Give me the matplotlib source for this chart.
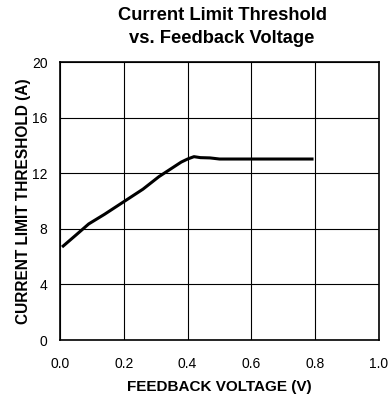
import numpy as np
import matplotlib.pyplot as plt

plt.rcParams['font.family'] = ['Liberation Sans', 'DejaVu Sans']

# dados
v_fb = [0.01, 0.05, 0.09, 0.14, 0.20, 0.26, 0.31, 0.35, 0.38, 0.40, 0.42, 0.44, 0.47, 0.50, 0.60, 0.70, 0.79]
i_lim = [6.76, 7.55, 8.35, 9.05, 9.95, 10.85, 11.75, 12.35, 12.80, 13.02, 13.19, 13.12, 13.10, 13.02, 13.02, 13.02, 13.02]

xticks = [0.0, 0.2, 0.4, 0.6, 0.8, 1.0]
yticks = [0, 4, 8, 12, 16, 20]

fig = plt.figure(figsize=(3.91, 3.98), dpi=100)
ax = fig.add_axes([60 / 391, 1 - 340 / 398, 319 / 391, 278 / 398])

ax.plot(v_fb, i_lim, color='black', linewidth=2.2)

ax.set_xlim(0, 1.0)
ax.set_ylim(0, 20)
ax.set_xticks(xticks)
ax.set_yticks(yticks)
ax.set_xticklabels(['%.1f' % t for t in xticks])
ax.tick_params(length=0, labelsize=10)
ax.tick_params(axis='x', pad=12)
ax.tick_params(axis='y', pad=9)
ax.grid(True, color='black', linewidth=0.8)
for s in ax.spines.values():
    s.set_linewidth(1.2)

# rótulos dos eixos posicionados em pixels da figura
fig.text(219 / 391, 1 - 387 / 398, 'FEEDBACK VOLTAGE (V)', fontsize=11, fontweight='bold',
         ha='center', va='center')
fig.text(24 / 391, 1 - 201 / 398, 'CURRENT LIMIT THRESHOLD (A)', fontsize=11.2, fontweight='bold',
         ha='center', va='center', rotation=90)
fig.text(222 / 391, 1 - 27 / 398, 'Current Limit Threshold\nvs. Feedback Voltage', fontsize=13.2,
         fontweight='bold', ha='center', va='center', linespacing=1.4)

fig.savefig('out.png', dpi=100)
